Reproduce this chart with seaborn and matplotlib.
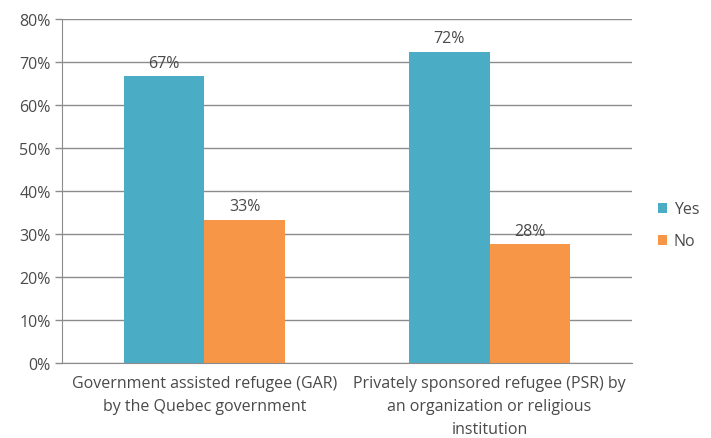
import numpy as np
import pandas as pd
import matplotlib.pyplot as plt
import seaborn as sns

# Data
categories = [
    "Government assisted refugee (GAR)\nby the Quebec government",
    "Privately sponsored refugee (PSR) by\nan organization or religious\ninstitution",
]
answers = ["Yes", "No"]
yes_values = [66.7, 72.4]
no_values = [33.3, 27.6]

df = pd.DataFrame({
    "category": categories * 2,
    "answer": ["Yes"] * len(categories) + ["No"] * len(categories),
    "value": yes_values + no_values,
})

sns.set_style("white")
plt.rcParams["font.family"] = ["Open Sans", "DejaVu Sans"]

fig = plt.figure(figsize=(7.11, 4.39), dpi=100)
ax = fig.add_axes([0.087, 0.171, 0.802, 0.783])

palette = {"Yes": "#4BACC6", "No": "#F79646"}
sns.barplot(data=df, x="category", y="value", hue="answer", hue_order=answers,
            palette=palette, width=0.565, saturation=1, linewidth=0, ax=ax, legend=True)

txt = "#4a4a4a"
fs = 11.5

# data labels
for container in ax.containers:
    ax.bar_label(container, labels=[f"{v:.0f}%" for v in container.datavalues],
                 padding=4, fontsize=fs, color=txt)

ax.set_ylim(0, 80)
ax.set_xlim(-0.5, 1.5)
ax.set_yticks(np.arange(0, 81, 10))
ax.set_yticklabels([f"{t}%" for t in range(0, 81, 10)], fontsize=fs, color=txt)
ax.yaxis.grid(True, color="#8c8c8c", linewidth=1)
ax.set_axisbelow(True)
ax.set_xlabel("")
ax.set_ylabel("")

# category boundary ticks on the x axis
ax.set_xticks([-0.5, 0.5, 1.5], minor=True)
ax.tick_params(axis="x", which="minor", length=5, color="#8c8c8c", width=1)
ax.tick_params(axis="x", which="major", length=0, pad=9, labelsize=fs, labelcolor=txt)
ax.tick_params(axis="y", length=5, color="#8c8c8c", width=1, left=True, pad=3)
for lbl in ax.get_xticklabels():
    lbl.set_linespacing(1.55)

for side in ["top", "right"]:
    ax.spines[side].set_visible(False)
for side in ["left", "bottom"]:
    ax.spines[side].set_color("#8c8c8c")

leg = ax.legend(loc="center left", bbox_to_anchor=(1.02, 0.40), frameon=False,
                fontsize=fs, handlelength=0.6, handleheight=0.6, handletextpad=0.4,
                labelspacing=1.0)
for t in leg.get_texts():
    t.set_color(txt)

fig.savefig("out.png", dpi=100)
